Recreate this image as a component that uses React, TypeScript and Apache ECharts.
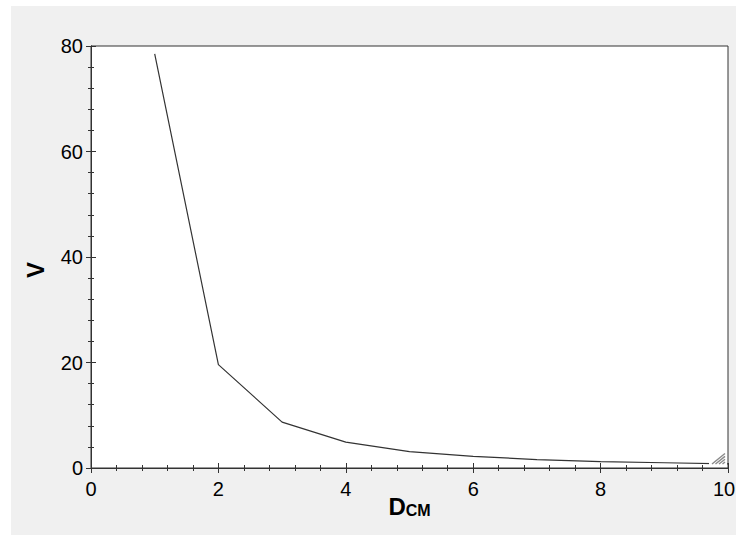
import React, { useEffect, useRef } from "react";
import * as echarts from "echarts";

const dValues = [1, 2, 3, 4, 5, 6, 7, 8, 9, 10];
const vValues = [78.5, 19.6, 8.7, 4.9, 3.1, 2.2, 1.6, 1.2, 1.0, 0.8];
const xTicks = [0, 2, 4, 6, 8, 10];
const yTicks = [0, 20, 40, 60, 80];

export default function App() {
  const ref = useRef<HTMLDivElement>(null);
  useEffect(() => {
    if (!ref.current) return;
    const chart = echarts.init(ref.current, undefined, { renderer: "svg" });
    const axisCommon = {
      axisLine: { show: true, lineStyle: { color: "#333", width: 1 } },
      axisTick: { show: true, inside: true, length: 5, lineStyle: { color: "#333" } },
      minorTick: { show: true, splitNumber: 5, length: 3, lineStyle: { color: "#333" } },
      splitLine: { show: false },
    };
    const font = "Liberation Sans, Arial, sans-serif";
    const xMax = xTicks[xTicks.length - 1];
    chart.setOption({
      animation: false,
      backgroundColor: "#f0f0f0",
      grid: {
        left: 80,
        top: 40,
        right: 8,
        bottom: 67,
        containLabel: false,
        outerBoundsMode: "none",
        show: true,
        backgroundColor: "#ffffff",
        borderColor: "#333",
        borderWidth: 1,
      },
      xAxis: [
        {
          type: "value",
          min: xTicks[0],
          max: xMax,
          interval: 2,
          ...axisCommon,
          axisLabel: {
            color: "#000",
            fontSize: 20,
            fontFamily: font,
            margin: 11,
            formatter: (v: number) => (v === xMax ? "{r|" + v + "}" : String(v)),
            rich: {
              r: { fontSize: 20, fontFamily: font, color: "#000", padding: [0, 8, 0, 0] },
            },
          },
          name: "{d|D}{s|CM}",
          nameLocation: "middle",
          nameGap: 26,
          nameMoveOverlap: false,
          nameTextStyle: {
            rich: {
              d: { fontSize: 24, fontWeight: "bold", color: "#000", fontFamily: font, verticalAlign: "bottom" },
              s: { fontSize: 16, fontWeight: "bold", color: "#000", fontFamily: font, verticalAlign: "bottom", padding: [6, 0, 0, 0] },
            },
          },
        },
        {
          type: "value",
          position: "top",
          min: xTicks[0],
          max: xMax,
          interval: 2,
          ...axisCommon,
          axisLabel: { show: false },
        },
      ],
      yAxis: [
        {
          type: "value",
          min: yTicks[0],
          max: yTicks[yTicks.length - 1],
          interval: 20,
          ...axisCommon,
          axisLabel: { color: "#000", fontSize: 20, fontFamily: font, margin: 8 },
          name: "V",
          nameLocation: "middle",
          nameRotate: 90,
          nameGap: 44,
          nameMoveOverlap: false,
          nameTextStyle: {
            fontSize: 24,
            fontWeight: "bold",
            color: "#000",
            fontFamily: font,
            padding: [0, 26, 0, 0],
          },
        },
        {
          type: "value",
          position: "right",
          min: yTicks[0],
          max: yTicks[yTicks.length - 1],
          interval: 20,
          ...axisCommon,
          axisLabel: { show: false },
        },
      ],
      series: [
        {
          type: "line",
          data: dValues.map((d, i) => [d, vValues[i]]),
          showSymbol: false,
          symbol: "none",
          lineStyle: { color: "#333", width: 1.2 },
          z: 3,
        },
      ],
      graphic: [
        { type: "rect", z: 100, shape: { x: 698, y: 447, width: 18, height: 14 }, style: { fill: "#fff" } },
        { type: "line", z: 101, shape: { x1: 701, y1: 458, x2: 714, y2: 447.5 }, style: { stroke: "#8a8a8a", lineWidth: 1.4 } },
        { type: "line", z: 101, shape: { x1: 704.5, y1: 458, x2: 714, y2: 450.4 }, style: { stroke: "#8a8a8a", lineWidth: 1.4 } },
        { type: "line", z: 101, shape: { x1: 708, y1: 458, x2: 714, y2: 453.2 }, style: { stroke: "#8a8a8a", lineWidth: 1.4 } },
        { type: "line", z: 101, shape: { x1: 711.5, y1: 458, x2: 714, y2: 456 }, style: { stroke: "#8a8a8a", lineWidth: 1.4 } },
      ],
    });
    return () => chart.dispose();
  }, []);
  return (
    <div style={{ position: "fixed", left: 0, top: 0, width: 736, height: 535, background: "#fff" }}>
      <div ref={ref} style={{ position: "absolute", left: 11, top: 6, width: 725, height: 529 }} />
    </div>
  );
}
